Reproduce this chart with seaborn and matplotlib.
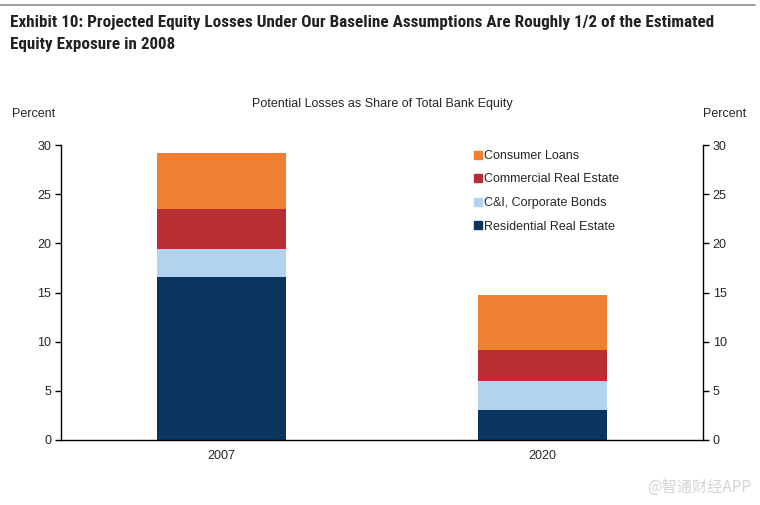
import numpy as np
import pandas as pd
import matplotlib
matplotlib.use('Agg')
import matplotlib.pyplot as plt
from matplotlib.lines import Line2D
from matplotlib import font_manager
import seaborn as sns

sns.set_style('white')
plt.rcParams['font.family'] = ['Liberation Sans', 'DejaVu Sans']

# data (percent of total bank equity)
years = ['2007', '2020']
residential = [16.55, 3.05]
ci_bonds = [2.85, 2.95]
commercial_re = [4.1, 3.2]
consumer = [5.7, 5.5]
series_names = ['Residential Real Estate', 'C&I, Corporate Bonds',
                'Commercial Real Estate', 'Consumer Loans']
colors = ['#0B355F', '#B0D3F0', '#B82F33', '#EE8031']

df = pd.DataFrame({'year': years,
                   series_names[0]: residential,
                   series_names[1]: ci_bonds,
                   series_names[2]: commercial_re,
                   series_names[3]: consumer})
cum = df[series_names].cumsum(axis=1)

fig = plt.figure(figsize=(7.6, 5.05), dpi=100)
ax = fig.add_axes([61 / 760, 1 - 440 / 505, 642 / 760, 295 / 505])

# stacked bars: draw cumulative totals from the top segment down
for name, col in reversed(list(zip(series_names, colors))):
    sns.barplot(x=df['year'], y=cum[name], color=col, width=0.4,
                saturation=1, ax=ax, edgecolor='none')

ax.set_xlim(-0.5, 1.5)
ax.set_ylim(0, 30)
ax.set_yticks(range(0, 31, 5))
ax.set_xlabel('')
ax.set_ylabel('')
for s in ['top', 'right']:
    ax.spines[s].set_visible(False)
for s in ['left', 'bottom']:
    ax.spines[s].set_color('black')
    ax.spines[s].set_linewidth(1)
ax.tick_params(axis='y', direction='out', length=4, width=1, labelsize=9,
               color='black', pad=3)
ax.tick_params(axis='x', length=0, labelsize=9, pad=7)

ax2 = ax.twinx()
ax2.set_ylim(0, 30)
ax2.set_yticks(range(0, 31, 5))
for s in ['top', 'left', 'bottom']:
    ax2.spines[s].set_visible(False)
ax2.spines['right'].set_color('black')
ax2.spines['right'].set_linewidth(1)
ax2.tick_params(axis='y', direction='out', length=4, width=1, labelsize=9,
                color='black', pad=3)

handles = [Line2D([], [], marker='s', linestyle='none', markersize=6,
                  markerfacecolor=c, markeredgecolor=c)
           for c in reversed(colors)]
fig.legend(handles, list(reversed(series_names)), loc='upper left',
           bbox_to_anchor=(469 / 760, 1 - 145 / 505), frameon=False,
           fontsize=9, handlelength=0.6, handletextpad=0.2,
           labelspacing=0.92, borderaxespad=0)

# header: narrow bold face if one is installed, sized to the reference width
installed = {f.name for f in font_manager.fontManager.ttflist}
title_family = next((f for f in ['Liberation Sans Narrow', 'Roboto Condensed',
                                 'Open Sans Condensed', 'DejaVu Sans Condensed',
                                 'Liberation Sans'] if f in installed), 'DejaVu Sans')
title_stretch = 'condensed' if title_family == 'DejaVu Sans Condensed' else 'normal'

fig.add_artist(Line2D([0, 755 / 760], [1 - 5 / 505] * 2, color='#8a8a8a', lw=1.2))
t1 = fig.text(10 / 760, 1 - 22 / 505,
              'Exhibit 10: Projected Equity Losses Under Our Baseline Assumptions Are Roughly 1/2 of the Estimated',
              fontsize=12.5, fontweight='bold', va='center', color='#222222',
              family=title_family, fontstretch=title_stretch)
t2 = fig.text(10 / 760, 1 - 44 / 505, 'Equity Exposure in 2008',
              fontsize=12.5, fontweight='bold', va='center', color='#222222',
              family=title_family, fontstretch=title_stretch)
renderer = fig.canvas.get_renderer()
w = t1.get_window_extent(renderer).width
size = min(12.5, 12.5 * 704 / w)
t1.set_fontsize(size)
t2.set_fontsize(size)

fig.text(382 / 760, 1 - 104 / 505, 'Potential Losses as Share of Total Bank Equity',
         fontsize=9, ha='center', va='center')
fig.text(12 / 760, 1 - 114 / 505, 'Percent', fontsize=9, ha='left', va='center')
fig.text(746 / 760, 1 - 114 / 505, 'Percent', fontsize=9, ha='right', va='center')
fig.text(751 / 760, 1 - 487 / 505, '@智通财经APP', fontsize=11, ha='right',
         va='center', color='#d4d4d4', family=['Noto Sans CJK SC', 'DejaVu Sans'])

fig.savefig('out.png', dpi=100)
